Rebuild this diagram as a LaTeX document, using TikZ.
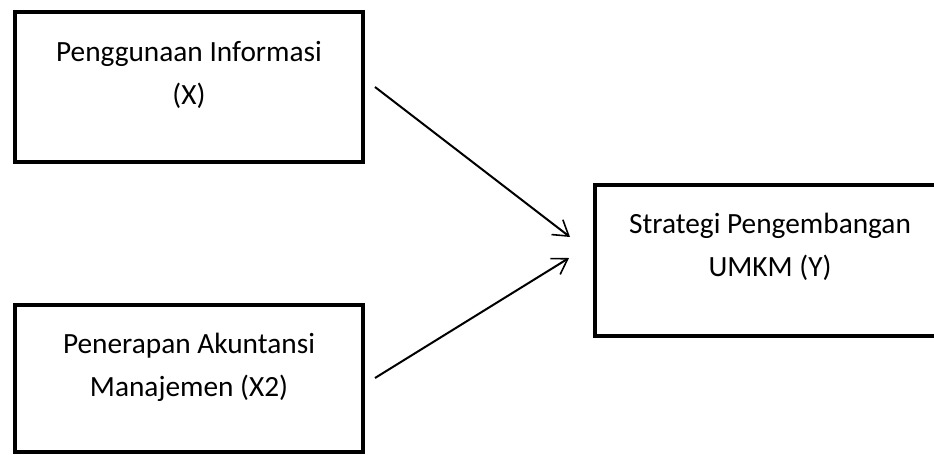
\documentclass[tikz,border=0pt]{standalone}
\usepackage{fontspec}
\setmainfont{Carlito}
\usetikzlibrary{arrows.meta}
\begin{document}
\begin{tikzpicture}[x=0.75pt,y=-0.75pt,
  box/.style={draw=black,line width=3pt,rectangle,inner sep=0pt},
  lbl/.style={font=\fontsize{22}{26}\selectfont,inner sep=0pt,anchor=center},
  conn/.style={line width=1.5pt,-{Straight Barb[length=11pt,width=14pt,line width=1.2pt]}}]
\useasboundingbox (0,0) rectangle (934,454);
\begin{scope}
\clip (0,0) rectangle (934,454);
\node[box,minimum width=261pt,minimum height=112.5pt] (bx) at (189,87) {};
\node[box,minimum width=261pt,minimum height=110pt] (bx2) at (189,378.5) {};
\node[box,minimum width=270pt,minimum height=113pt] (by) at (775,260.5) {};
\end{scope}
\node[lbl] (tx1) at (189,54) {Penggunaan Informasi};
\node[lbl] (tx2) at (189,96) {(X)};
\node[lbl] (tz1) at (189,346) {Penerapan Akuntansi};
\node[lbl] (tz2) at (189,388) {Manajemen (X2)};
\node[lbl] (ty1) at (770,226) {Strategi Pengembangan};
\node[lbl] (ty2) at (770,268) {UMKM (Y)};
\coordinate (s1) at (375,87);
\coordinate (e1) at (570,237);
\coordinate (s2) at (375,378);
\coordinate (e2) at (569,258);
\draw[conn] (s1) -- (e1);
\draw[conn] (s2) -- (e2);
\end{tikzpicture}
\end{document}
